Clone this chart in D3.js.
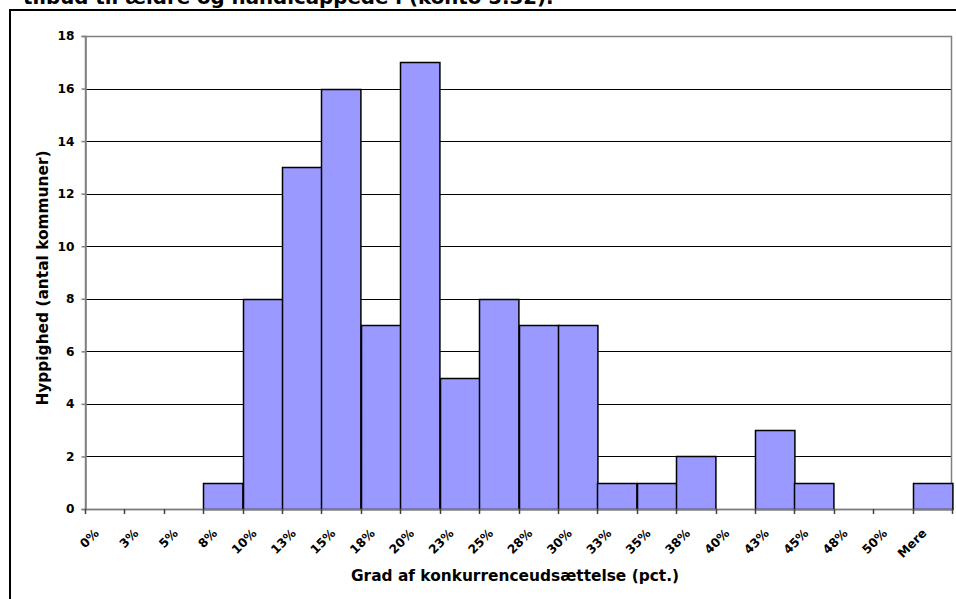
<!DOCTYPE html>
<html><head><meta charset="utf-8">
<script src="https://cdn.jsdelivr.net/npm/d3@7"></script>
<style>body{margin:0;background:#fff;} svg{display:block;font-family:"DejaVu Sans",Verdana,sans-serif;}</style>
</head><body>
<script>
const categories = ["0%","3%","5%","8%","10%","13%","15%","18%","20%","23%","25%","28%","30%","33%","35%","38%","40%","43%","45%","48%","50%","Mere"];
const frequencies = [0,0,0,1,8,13,16,7,17,5,8,7,7,1,1,2,0,3,1,0,0,1];
const yTicks = [0,2,4,6,8,10,12,14,16,18];
const titleText = "tilbud til ældre og handicappede i (konto 5.32).";
const xTitle = "Grad af konkurrenceudsættelse (pct.)";
const yTitle = "Hyppighed (antal kommuner)";

const W = 956, H = 599;
const m = {left:85, top:36, right:952, bottom:509};
const svg = d3.select("body").append("svg").attr("width",W).attr("height",H);

// outer frame (extends beyond the visible window)
svg.append("rect").attr("x",10).attr("y",10).attr("width",980).attr("height",620)
  .attr("fill","none").attr("stroke","#000").attr("stroke-width",2);

// title (cut off at the top, as in the reference)
svg.append("text").attr("x",23).attr("y",4).attr("font-size",19.8).attr("font-weight","bold")
  .text(titleText);

const data = categories.map((c,i)=>({cat:c, value:frequencies[i]}));
const x = d3.scaleBand().domain(categories).range([m.left,m.right]).padding(0);
const y = d3.scaleLinear().domain([0,18]).range([m.bottom,m.top]);

// gridlines
svg.append("g").selectAll("line").data(yTicks.filter(d=>d>0 && d<18)).join("line")
  .attr("x1",m.left).attr("x2",m.right)
  .attr("y1",d=>Math.round(y(d))+0.5).attr("y2",d=>Math.round(y(d))+0.5)
  .attr("stroke","#000").attr("stroke-width",1);

// plot border
svg.append("rect").attr("x",m.left+0.5).attr("y",m.top+0.5)
  .attr("width",m.right-m.left-1).attr("height",m.bottom-m.top)
  .attr("fill","none").attr("stroke","#808080").attr("stroke-width",1.5);

// bars
svg.append("g").selectAll("rect").data(data.filter(d=>d.value>0)).join("rect")
  .attr("x",d=>Math.round(x(d.cat))+0.5)
  .attr("y",d=>Math.round(y(d.value))+0.5)
  .attr("width",x.bandwidth())
  .attr("height",d=>y(0)-Math.round(y(d.value)))
  .attr("fill","#9999FF").attr("stroke","#000").attr("stroke-width",1.5);

// y axis
const yAxis = d3.axisLeft(y).tickValues(yTicks).tickSize(4).tickPadding(7).tickFormat(d3.format("d"));
const gy = svg.append("g").attr("transform",`translate(${m.left+0.5},0)`).call(yAxis);
gy.select(".domain").attr("stroke","#808080").attr("stroke-width",1.5);
gy.selectAll(".tick line").attr("stroke","#808080").attr("stroke-width",1.5);
gy.selectAll(".tick text").attr("font-size",12.2).attr("font-weight","bold").attr("fill","#000")
  .attr("font-family","DejaVu Sans");

// x axis: line + ticks at category boundaries
const gx = svg.append("g");
gx.append("line").attr("x1",m.left).attr("x2",m.right).attr("y1",m.bottom+0.5).attr("y2",m.bottom+0.5)
  .attr("stroke","#808080").attr("stroke-width",1.5);
const bounds = categories.map(c=>x(c)).concat([x(categories[categories.length-1])+x.bandwidth()]);
gx.selectAll("line.t").data(bounds).join("line").attr("class","t")
  .attr("x1",d=>Math.round(d)+0.5).attr("x2",d=>Math.round(d)+0.5)
  .attr("y1",m.bottom).attr("y2",m.bottom+5)
  .attr("stroke","#404040").attr("stroke-width",1.5);
gx.selectAll("text").data(categories).join("text")
  .attr("transform",d=>`translate(${x(d)+x.bandwidth()/2-5},${m.bottom+25}) rotate(-45)`)
  .attr("text-anchor","end")
  .attr("font-size",12.2).attr("font-weight","bold")
  .text(d=>d);

// axis titles
svg.append("text").attr("x",515).attr("y",581).attr("text-anchor","middle")
  .attr("font-size",15.4).attr("font-weight","bold").text(xTitle);
svg.append("text").attr("transform","translate(48,278) rotate(-90)").attr("text-anchor","middle")
  .attr("font-size",15.4).attr("font-weight","bold").text(yTitle);
</script>
</body></html>
